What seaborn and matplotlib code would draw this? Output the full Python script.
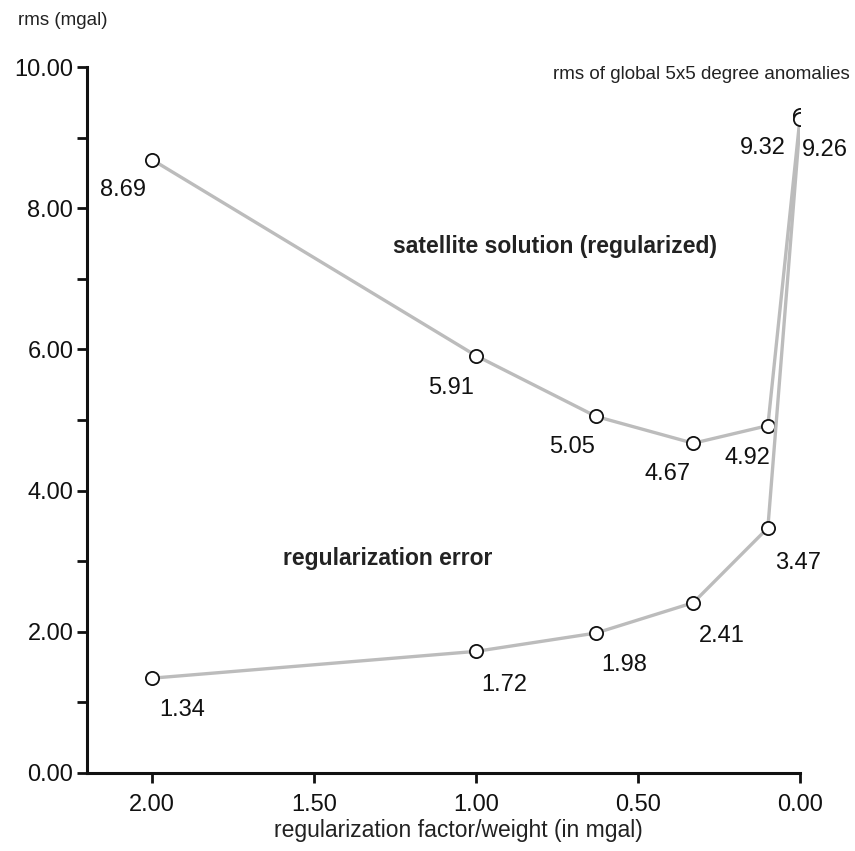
import matplotlib
matplotlib.use("Agg")
import matplotlib.pyplot as plt
from matplotlib.ticker import MultipleLocator, FormatStrFormatter
import pandas as pd
import seaborn as sns

sns.set_theme(style="white")
plt.rcParams["font.family"] = ["Liberation Sans", "DejaVu Sans"]

# regularization factor / weight (mgal)
weights = [2.00, 1.00, 0.63, 0.33, 0.10, 0.00]
satellite_rms = [8.69, 5.91, 5.05, 4.67, 4.92, 9.32]
regularization_rms = [1.34, 1.72, 1.98, 2.41, 3.47, 9.26]
series_names = ["satellite solution (regularized)", "regularization error"]

# label offsets in pixels (dx, dy downwards) for each point
satellite_offsets = [(-29, 30), (-25, 32), (-24, 31), (-26, 31), (-20, 32), (-37, 33)]
regularization_offsets = [(30, 32), (28, 34), (28, 32), (28, 33), (30, 35), (25, 31)]

df = pd.concat([
    pd.DataFrame({"weight": weights, "rms": satellite_rms, "series": series_names[0]}),
    pd.DataFrame({"weight": weights, "rms": regularization_rms, "series": series_names[1]}),
], ignore_index=True)

fig = plt.figure(figsize=(8.55, 8.51), dpi=100)
ax = fig.add_axes([0.102, 0.092, 0.834, 0.829])

sns.lineplot(data=df, x="weight", y="rms", hue="series", style="series",
             markers=["o", "o"], dashes=False, palette=["#bcbcbc", "#bcbcbc"],
             linewidth=2.4, markersize=9.5, markerfacecolor="white",
             markeredgecolor="#111111", markeredgewidth=1.3,
             sort=False, legend=False, ax=ax)

px = 0.72  # pixels -> points at 100 dpi
for x, y, (dx, dy) in zip(weights, satellite_rms, satellite_offsets):
    ax.annotate(f"{y:.2f}", (x, y), xytext=(dx * px, -dy * px), textcoords="offset points",
                ha="center", va="center", fontsize=17, color="#111111")
for x, y, (dx, dy) in zip(weights, regularization_rms, regularization_offsets):
    ax.annotate(f"{y:.2f}", (x, y), xytext=(dx * px, -dy * px), textcoords="offset points",
                ha="center", va="center", fontsize=17, color="#111111")

fig.text(0.649, 0.710, "satellite solution (regularized)", ha="center", va="center",
         fontsize=16.5, fontweight="bold", color="#222222")
fig.text(0.453, 0.344, "regularization error", ha="center", va="center",
         fontsize=16.5, fontweight="bold", color="#222222")
fig.text(0.994, 0.912, "rms of global 5x5 degree anomalies", ha="right", va="center",
         fontsize=13.5, color="#222222")
fig.text(0.021, 0.976, "rms (mgal)", ha="left", va="center", fontsize=13.5, color="#222222")

ax.set_xlim(2.2, 0.0)
ax.set_ylim(0, 10)
ax.xaxis.set_major_locator(MultipleLocator(0.5))
ax.xaxis.set_major_formatter(FormatStrFormatter("%.2f"))
ax.yaxis.set_major_locator(MultipleLocator(2))
ax.yaxis.set_minor_locator(MultipleLocator(1))
ax.yaxis.set_major_formatter(FormatStrFormatter("%.2f"))

ax.set_xlabel("regularization factor/weight (in mgal)", fontsize=16.5, color="#222222")
ax.xaxis.set_label_coords(0.52, -0.066)
ax.set_ylabel("")

for side in ["top", "right"]:
    ax.spines[side].set_visible(False)
for side in ["left", "bottom"]:
    ax.spines[side].set_color("#111111")
    ax.spines[side].set_linewidth(2.2)

ax.tick_params(axis="both", which="both", direction="out", color="#111111",
               width=2, length=7, labelsize=17, labelcolor="#111111")
ax.tick_params(axis="y", which="minor", left=True, length=7, width=2)
ax.tick_params(axis="x", which="major", bottom=True, pad=8)
ax.tick_params(axis="y", which="major", left=True, pad=3)

fig.savefig("out.png", dpi=100)
